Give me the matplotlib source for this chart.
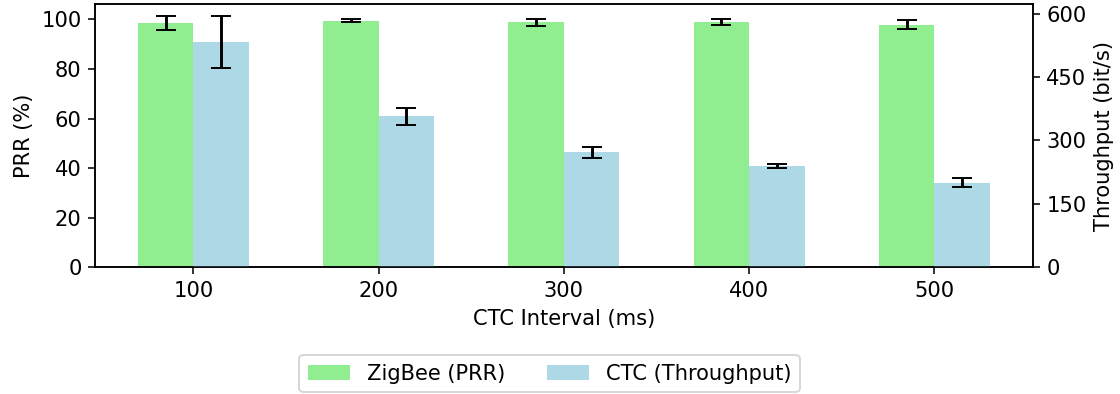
import numpy as np
import matplotlib
matplotlib.use("Agg")
import matplotlib.pyplot as plt

# ==== DATA ====
intervals = ["100", "200", "300", "400", "500"]
prr_mean = [98.4, 99.4, 98.8, 98.8, 97.9]
prr_err = [2.8, 0.6, 1.4, 1.2, 1.7]
tp_mean = [532, 357, 272, 239, 200]
tp_err = [61, 20, 13, 5.5, 10]

plt.rcParams["font.size"] = 10.8

x = np.arange(len(intervals))
width = 0.3

fig, ax1 = plt.subplots(figsize=(8, 2.8143), dpi=140)
fig.subplots_adjust(left=0.085, right=0.922, top=0.99, bottom=0.322)

b1 = ax1.bar(x - width / 2, prr_mean, width, yerr=prr_err, capsize=5,
             color="lightgreen", label="ZigBee (PRR)")
ax1.set_ylabel("PRR (%)")
ax1.set_xlabel("CTC Interval (ms)")
ax1.set_xticks(x)
ax1.set_xticklabels(intervals)

ax2 = ax1.twinx()
b2 = ax2.bar(x + width / 2, tp_mean, width, yerr=tp_err, capsize=5,
             color="lightblue", label="CTC (Throughput)")
ax2.set_ylabel("Throughput (bit/s)")
ax2.set_yticks([0, 150, 300, 450, 600])

fig.legend([b1, b2], ["ZigBee (PRR)", "CTC (Throughput)"], ncol=2,
           loc="lower center", borderaxespad=0,
           bbox_to_anchor=(549.5 / 1120, 2 / 394))

plt.savefig("out.png")
